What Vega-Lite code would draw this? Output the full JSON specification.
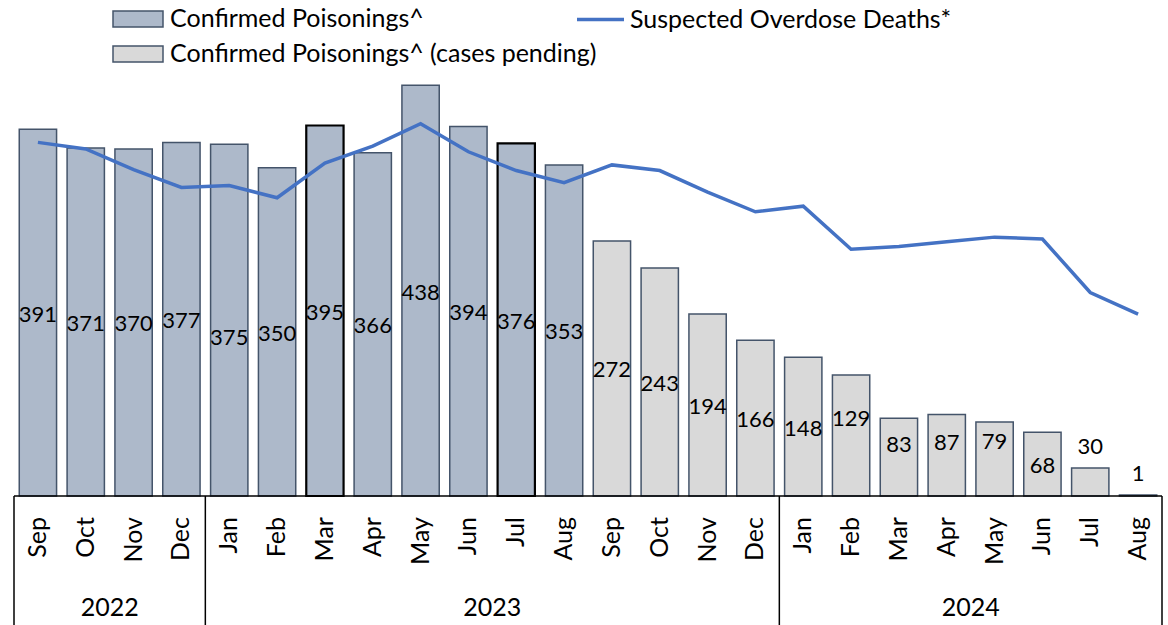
{
  "$schema": "https://vega.github.io/schema/vega-lite/v6.json",
  "width": 1148,
  "height": 625,
  "autosize": {"type": "none"},
  "padding": {"left": 14, "right": 6, "top": 0, "bottom": 0},
  "config": {"view": {"stroke": null}, "font": "Lato", "text": {"font": "Lato"}},
  "data": {"values": [
    {"key": "2022-09", "m": "Sep", "yr": "2022", "v": 391, "deaths": 377, "status": "Confirmed Poisonings^"},
    {"key": "2022-10", "m": "Oct", "yr": "2022", "v": 371, "deaths": 370, "status": "Confirmed Poisonings^"},
    {"key": "2022-11", "m": "Nov", "yr": "2022", "v": 370, "deaths": 348, "status": "Confirmed Poisonings^"},
    {"key": "2022-12", "m": "Dec", "yr": "2022", "v": 377, "deaths": 329, "status": "Confirmed Poisonings^"},
    {"key": "2023-01", "m": "Jan", "yr": "2023", "v": 375, "deaths": 331, "status": "Confirmed Poisonings^"},
    {"key": "2023-02", "m": "Feb", "yr": "2023", "v": 350, "deaths": 318, "status": "Confirmed Poisonings^"},
    {"key": "2023-03", "m": "Mar", "yr": "2023", "v": 395, "deaths": 355, "status": "Confirmed Poisonings^"},
    {"key": "2023-04", "m": "Apr", "yr": "2023", "v": 366, "deaths": 373, "status": "Confirmed Poisonings^"},
    {"key": "2023-05", "m": "May", "yr": "2023", "v": 438, "deaths": 397, "status": "Confirmed Poisonings^"},
    {"key": "2023-06", "m": "Jun", "yr": "2023", "v": 394, "deaths": 367, "status": "Confirmed Poisonings^"},
    {"key": "2023-07", "m": "Jul", "yr": "2023", "v": 376, "deaths": 347, "status": "Confirmed Poisonings^"},
    {"key": "2023-08", "m": "Aug", "yr": "2023", "v": 353, "deaths": 334, "status": "Confirmed Poisonings^"},
    {"key": "2023-09", "m": "Sep", "yr": "2023", "v": 272, "deaths": 353, "status": "Confirmed Poisonings^ (cases pending)"},
    {"key": "2023-10", "m": "Oct", "yr": "2023", "v": 243, "deaths": 347, "status": "Confirmed Poisonings^ (cases pending)"},
    {"key": "2023-11", "m": "Nov", "yr": "2023", "v": 194, "deaths": 324, "status": "Confirmed Poisonings^ (cases pending)"},
    {"key": "2023-12", "m": "Dec", "yr": "2023", "v": 166, "deaths": 303, "status": "Confirmed Poisonings^ (cases pending)"},
    {"key": "2024-01", "m": "Jan", "yr": "2024", "v": 148, "deaths": 309, "status": "Confirmed Poisonings^ (cases pending)"},
    {"key": "2024-02", "m": "Feb", "yr": "2024", "v": 129, "deaths": 263, "status": "Confirmed Poisonings^ (cases pending)"},
    {"key": "2024-03", "m": "Mar", "yr": "2024", "v": 83, "deaths": 266, "status": "Confirmed Poisonings^ (cases pending)"},
    {"key": "2024-04", "m": "Apr", "yr": "2024", "v": 87, "deaths": 271, "status": "Confirmed Poisonings^ (cases pending)"},
    {"key": "2024-05", "m": "May", "yr": "2024", "v": 79, "deaths": 276, "status": "Confirmed Poisonings^ (cases pending)"},
    {"key": "2024-06", "m": "Jun", "yr": "2024", "v": 68, "deaths": 274, "status": "Confirmed Poisonings^ (cases pending)"},
    {"key": "2024-07", "m": "Jul", "yr": "2024", "v": 30, "deaths": 217, "status": "Confirmed Poisonings^ (cases pending)"},
    {"key": "2024-08", "m": "Aug", "yr": "2024", "v": 1, "deaths": 194, "status": "Confirmed Poisonings^ (cases pending)"}
  ]},
  "resolve": {"scale": {"y": "independent"}},
  "layer": [
    {
      "mark": {"type": "bar", "width": {"band": 0.78}},
      "encoding": {
        "x": {"field": "key", "type": "nominal", "sort": null, "axis": null, "scale": {"paddingInner": 0, "paddingOuter": 0}},
        "y": {"field": "v", "type": "quantitative", "scale": {"domain": [-137.5, 528.8], "nice": false, "zero": false}, "axis": null},
        "y2": {"datum": 0},
        "fill": {"field": "status", "type": "nominal",
          "scale": {"domain": ["Confirmed Poisonings^", "Confirmed Poisonings^ (cases pending)"], "range": ["#ADB9CA", "#D9D9D9"]},
          "legend": {"title": null, "orient": "none", "legendX": 98, "legendY": 2, "direction": "vertical",
            "symbolType": "M-1,-0.32L1,-0.32L1,0.32L-1,0.32Z", "symbolSize": 2500, "clipHeight": 34,
            "symbolStrokeColor": "#44546A", "symbolStrokeWidth": 1.5, "symbolOpacity": 1,
            "labelFontSize": 25, "labelFont": "Lato", "labelColor": "#000000", "labelOffset": 6, "labelLimit": 600, "padding": 0, "rowPadding": 1}},
        "stroke": {"condition": {"test": "datum.key === '2023-03' || datum.key === '2023-07'", "value": "#000000"}, "value": "#44546A"},
        "strokeWidth": {"condition": {"test": "datum.key === '2023-03' || datum.key === '2023-07'", "value": 2.2}, "value": 1.5}
      }
    },
    {
      "transform": [{"filter": "datum.v >= 50 && indexof(['2023-01','2024-02','2024-03','2024-04','2024-05'], datum.key) < 0"}],
      "mark": {"type": "text", "fontSize": 22, "baseline": "middle", "color": "#000000", "dy": 2},
      "encoding": {
        "x": {"field": "key", "type": "nominal", "sort": null, "axis": null},
        "y": {"field": "v", "type": "quantitative", "scale": {"domain": [-275, 1057.6], "nice": false, "zero": false}, "axis": null},
        "text": {"field": "v", "type": "quantitative"}
      }
    },
    {
      "transform": [{"filter": "datum.key === '2023-01'"}],
      "mark": {"type": "text", "fontSize": 22, "baseline": "middle", "color": "#000000", "dy": 18},
      "encoding": {
        "x": {"field": "key", "type": "nominal", "sort": null, "axis": null},
        "y": {"field": "v", "type": "quantitative", "scale": {"domain": [-275, 1057.6], "nice": false, "zero": false}, "axis": null},
        "text": {"field": "v", "type": "quantitative"}
      }
    },
    {
      "transform": [{"filter": "datum.key === '2024-03' || datum.key === '2024-04'"}],
      "mark": {"type": "text", "fontSize": 22, "baseline": "middle", "color": "#000000", "dy": -12},
      "encoding": {
        "x": {"field": "key", "type": "nominal", "sort": null, "axis": null},
        "y": {"field": "v", "type": "quantitative", "scale": {"domain": [-275, 1057.6], "nice": false, "zero": false}, "axis": null},
        "text": {"field": "v", "type": "quantitative"}
      }
    },
    {
      "transform": [{"filter": "datum.key === '2024-02' || datum.key === '2024-05'"}],
      "mark": {"type": "text", "fontSize": 22, "baseline": "middle", "color": "#000000", "dy": -17},
      "encoding": {
        "x": {"field": "key", "type": "nominal", "sort": null, "axis": null},
        "y": {"field": "v", "type": "quantitative", "scale": {"domain": [-275, 1057.6], "nice": false, "zero": false}, "axis": null},
        "text": {"field": "v", "type": "quantitative"}
      }
    },
    {
      "transform": [{"filter": "datum.v < 50"}],
      "mark": {"type": "text", "fontSize": 22, "baseline": "alphabetic", "color": "#000000", "dy": -14},
      "encoding": {
        "x": {"field": "key", "type": "nominal", "sort": null, "axis": null},
        "y": {"field": "v", "type": "quantitative", "scale": {"domain": [-137.5, 528.8], "nice": false, "zero": false}, "axis": null},
        "text": {"field": "v", "type": "quantitative"}
      }
    },
    {
      "mark": {"type": "line", "strokeWidth": 3.5},
      "encoding": {
        "x": {"field": "key", "type": "nominal", "sort": null, "axis": null},
        "y": {"field": "deaths", "type": "quantitative", "scale": {"domain": [-137.5, 528.8], "nice": false, "zero": false}, "axis": null},
        "stroke": {"datum": "Suspected Overdose Deaths*", "type": "nominal", "scale": {"range": ["#4472C4"]},
          "legend": {"title": null, "orient": "none", "legendX": 561, "legendY": -6, "symbolType": "stroke", "symbolSize": 2209,
            "symbolStrokeWidth": 3.5, "labelFontSize": 25, "labelFont": "Lato", "labelColor": "#000000", "labelOffset": 4, "labelLimit": 600, "padding": 0}}
      }
    },
    {
      "mark": {"type": "text", "fontSize": 25, "angle": 270, "align": "right", "baseline": "middle", "color": "#000000"},
      "encoding": {
        "x": {"field": "key", "type": "nominal", "sort": null, "axis": null},
        "y": {"datum": -22.4, "type": "quantitative", "scale": {"domain": [-137.5, 528.8], "nice": false, "zero": false}, "axis": null},
        "text": {"field": "m", "type": "nominal"}
      }
    },
    {
      "transform": [{"filter": "datum.key === '2022-11' || datum.key === '2023-07' || datum.key === '2024-05'"}],
      "mark": {"type": "text", "fontSize": 25, "align": "center", "baseline": "middle", "color": "#000000"},
      "encoding": {
        "x": {"field": "key", "type": "nominal", "sort": null, "axis": null, "bandPosition": 0},
        "y": {"datum": -119.4, "type": "quantitative", "scale": {"domain": [-137.5, 528.8], "nice": false, "zero": false}, "axis": null},
        "text": {"field": "yr", "type": "nominal"}
      }
    },
    {
      "transform": [{"filter": "datum.key === '2022-09'"}],
      "mark": {"type": "rule", "color": "#000000", "strokeWidth": 1.5},
      "encoding": {
        "y": {"datum": 0, "type": "quantitative", "scale": {"domain": [-137.5, 528.8], "nice": false, "zero": false}, "axis": null}
      }
    },
    {
      "transform": [{"filter": "datum.m === 'Jan' || datum.key === '2022-09'"}],
      "mark": {"type": "rule", "color": "#000000", "strokeWidth": 1.5},
      "encoding": {
        "x": {"field": "key", "type": "nominal", "sort": null, "axis": null, "bandPosition": 0},
        "y": {"datum": 0, "type": "quantitative", "scale": {"domain": [-137.5, 528.8], "nice": false, "zero": false}, "axis": null},
        "y2": {"datum": -137.5}
      }
    },
    {
      "transform": [{"filter": "datum.key === '2024-08'"}],
      "mark": {"type": "rule", "color": "#000000", "strokeWidth": 1.5},
      "encoding": {
        "x": {"field": "key", "type": "nominal", "sort": null, "axis": null, "bandPosition": 1},
        "y": {"datum": 0, "type": "quantitative", "scale": {"domain": [-137.5, 528.8], "nice": false, "zero": false}, "axis": null},
        "y2": {"datum": -137.5}
      }
    }
  ]
}
